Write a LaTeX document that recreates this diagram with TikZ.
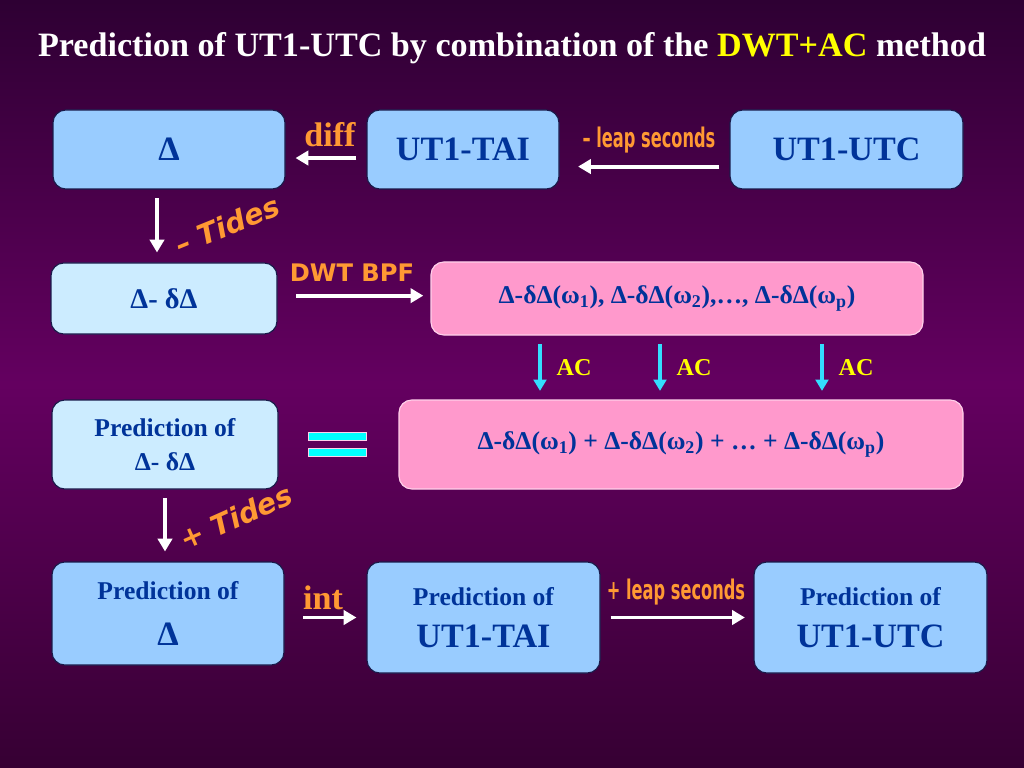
\documentclass[tikz,border=0pt]{standalone}
\usepackage{fontspec}
\setmainfont{Liberation Serif}
\newfontfamily\heavyfont{DejaVu Sans}
\newfontfamily\narrowfont{DejaVu Sans}
\usetikzlibrary{arrows.meta}
\definecolor{bgtop}{HTML}{2E0033}
\definecolor{bgmid}{HTML}{640060}
\definecolor{bgbot}{HTML}{360033}
\definecolor{skyblue}{HTML}{99CCFF}
\definecolor{paleblue}{HTML}{CCECFF}
\definecolor{rosepink}{HTML}{FF99CC}
\definecolor{boxline}{HTML}{1A1A4A}
\definecolor{pinkline}{HTML}{FFD0EA}
\definecolor{textblue}{HTML}{003399}
\definecolor{labelorange}{HTML}{FF9933}
\definecolor{acyellow}{HTML}{FFFF00}
\definecolor{accyan}{HTML}{33DDFF}
\definecolor{eqcyan}{HTML}{00FFFF}
\def\px{0.703125pt}

\begin{document}
\begin{tikzpicture}[x=0.703125pt,y=-0.703125pt]
		\tikzset{box/.style={draw=boxline, line width=0.8pt, rounded corners=9pt, text=textblue, align=center, inner sep=0pt},
			sized/.style 2 args={minimum width=#1*\px, minimum height=#2*\px},
			bigtext/.style={font=\bfseries\fontsize{24}{28}\selectfont},
			midtext/.style={font=\bfseries\fontsize{18}{24}\selectfont},
			arr/.style={draw=white, line width=2.8pt, -{Triangle[length=9pt,width=10pt]}},
			acarr/.style={draw=accyan, line width=2.8pt, -{Triangle[length=8pt,width=9pt]}},
			eqbar/.style={draw=pinkline, line width=0.4pt, fill=eqcyan, sized={58}{8}, inner sep=0pt},
			heavylabel/.style={text=labelorange, font=\heavyfont\bfseries\fontsize{17}{20}\selectfont},
			tidelabel/.style={text=labelorange, font=\heavyfont\bfseries\itshape\fontsize{20}{24}\selectfont},
			leaplabel/.style={text=labelorange, font=\narrowfont\bfseries\fontsize{19}{22}\selectfont}};
		\fill[top color=bgtop, bottom color=bgbot, middle color=bgmid] (0,0) rectangle (1024,768);
		\node[text=white, font=\bfseries\fontsize{24}{28}\selectfont] (title) at (512,48) {Prediction of UT1-UTC by combination of the \textcolor{acyellow}{DWT+AC} method};
		% first row
		\node[box, fill=skyblue, sized={232}{79}, bigtext] (delta) at (169,149.5) {Δ};
		\node[box, fill=skyblue, sized={192}{79}, bigtext] (tai) at (463,149.5) {UT1-TAI};
		\node[box, fill=skyblue, sized={233}{79}, bigtext] (utc) at (846.5,149.5) {UT1-UTC};
		% second row
		\node[box, fill=paleblue, sized={226}{71}, font=\bfseries\fontsize{20}{24}\selectfont] (ddelta) at (164,298.5) {Δ- δΔ};
		\node[box, draw=pinkline, fill=rosepink, sized={492}{73}, midtext] (bands) at (677,298.5) {Δ-δΔ(ω\textsubscript{1}), Δ-δΔ(ω\textsubscript{2}),…, Δ-δΔ(ω\textsubscript{p})};
		% third row
		\node[box, fill=paleblue, sized={226}{89}, midtext] (preddd) at (165,444.5) {Prediction of\\Δ- δΔ};
		\node[box, draw=pinkline, fill=rosepink, sized={564}{89}, midtext] (sum) at (681,444.5) {Δ-δΔ(ω\textsubscript{1}) + Δ-δΔ(ω\textsubscript{2}) + … + Δ-δΔ(ω\textsubscript{p})};
		\node[eqbar] (eqtop) at (337,436) {};
		\node[eqbar] (eqbot) at (337,452) {};
		% fourth row
		\node[box, fill=skyblue, sized={232}{103}, font=\bfseries\fontsize{18}{32}\selectfont] (predd) at (168,613.5) {Prediction of\\{\fontsize{24}{28}\selectfont Δ}};
		\node[box, fill=skyblue, sized={233}{111}, font=\bfseries\fontsize{18}{30}\selectfont] (predtai) at (483.5,617.5) {Prediction of\\{\fontsize{24}{28}\selectfont UT1-TAI}};
		\node[box, fill=skyblue, sized={233}{111}, font=\bfseries\fontsize{18}{30}\selectfont] (predutc) at (870.5,617.5) {Prediction of\\{\fontsize{24}{28}\selectfont UT1-UTC}};
		% connectors
		\draw[arr, shorten <=7pt, shorten >=7pt] ([yshift=-6pt]tai.west) -- ([yshift=-6pt]delta.east);
		\draw[arr, shorten <=7pt, shorten >=13pt] ([yshift=-12pt]utc.west) -- ([yshift=-12pt]tai.east);
		\draw[arr, shorten <=6pt, shorten >=7pt] ([xshift=-12*\px]delta.south) -- ([xshift=-12*\px]delta.south |- ddelta.north);
		\draw[arr, shorten <=13pt, shorten >=5pt] ([yshift=2pt]ddelta.east) -- ([yshift=2pt]ddelta.east -| bands.west);
		\foreach \dx in {-137,-17,145}
			\draw[acarr, shorten <=6pt, shorten >=6pt] ([xshift=\dx*\px]bands.south) -- ([xshift=\dx*\px]bands.south |- sum.north) node[midway, right=7pt, text=acyellow, font=\bfseries\fontsize{17}{20}\selectfont] {AC};
		\draw[arr, shorten <=6pt, shorten >=7pt] (preddd.south) -- (preddd.south |- predd.north);
		\draw[arr, shorten <=13pt, shorten >=7pt] (predd.east |- predtai.west) -- (predtai.west);
		\draw[arr, shorten <=7pt, shorten >=6pt] (predtai.east) -- (predutc.west);
		% labels
		\node[text=labelorange, font=\bfseries\fontsize{24}{28}\selectfont] (difflabel) at (330,135) {diff};
		\node[text=labelorange, font=\bfseries\fontsize{24}{28}\selectfont] (intlabel) at (323,598) {int};
		\node[leaplabel] (minusleap) at (649,140) {\scalebox{0.6}[1]{– leap seconds}};
		\node[leaplabel] (plusleap) at (676,592) {\scalebox{0.6}[1]{+ leap seconds}};
		\node[heavylabel] (bpflabel) at (352,273) {DWT BPF};
		\node[tidelabel, rotate=22] (minustides) at (227,225) {– Tides};
		\node[tidelabel, rotate=24] (plustides) at (236,517) {+ Tides};
	\end{tikzpicture}
\end{document}
